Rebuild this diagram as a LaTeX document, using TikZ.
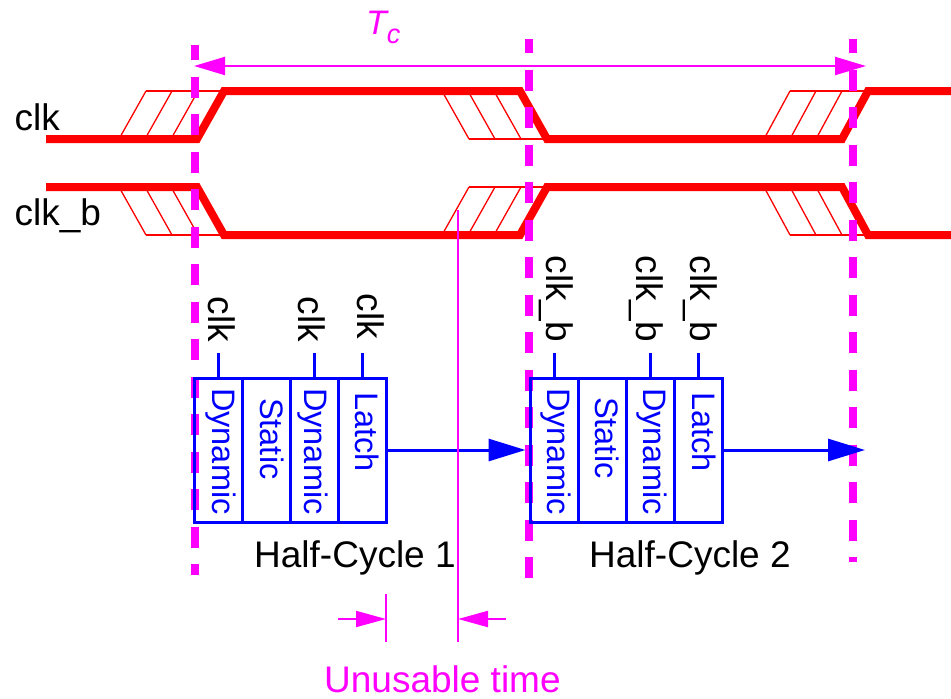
\documentclass[tikz,border=0pt]{standalone}
\usepackage{fontspec}
\setmainfont{Liberation Sans}
\usetikzlibrary{arrows.meta}
\definecolor{mag}{RGB}{255,0,255}
\definecolor{wred}{RGB}{255,0,0}
\definecolor{bblue}{RGB}{0,0,255}
\begin{document}
\begin{tikzpicture}[x=1pt,y=-1pt,
  wave/.style={wred, line width=8pt, line join=miter},
  hatch/.style={wred, line width=1.3pt},
  guide/.style={mag, line width=8pt, dash pattern=on 21pt off 16.5pt},
  mline/.style={mag, line width=2pt},
  cell/.style={draw=bblue, line width=3pt, minimum width=48pt, minimum height=144pt, inner sep=0pt},
  celltext/.style={bblue, rotate=-90, anchor=base west, inner sep=0pt, font=\fontsize{32.5}{32.5}\selectfont},
  pinlabel/.style={black, rotate=-90, anchor=base west, inner sep=0pt, font=\fontsize{37}{37}\selectfont},
  lbl/.style={anchor=base west, inner sep=0pt, font=\fontsize{37}{37}\selectfont},
  pin/.style={bblue, line width=3pt},
  flow/.style={bblue, line width=3pt, -{Triangle[length=37pt,width=22pt]}},
  bigtip/.style={mag, line width=2pt, {Triangle[length=31pt,width=18pt]}-{Triangle[length=31pt,width=18pt]}},
  smalltip/.style={mag, line width=2pt, -{Triangle[length=30pt,width=16pt]}}
]
\useasboundingbox (0,0) rectangle (951,699);

% hatches
\foreach \xa/\ya/\xb/\yb in {197/139/224/91, 520/91/547/139, 842/139/868/91,
                              197/187/224/235, 520/235/547/187, 842/187/868/235}{
  \foreach \s in {26,52,78}{
    \draw[hatch] (\xa-\s,\ya) -- (\xb-\s,\yb);
  }
  \draw[hatch] (\xb-78,\yb) -- (\xb,\yb);
}

% waveforms
\draw[wave] (46,139) -- (197,139) -- (224,91) -- (520,91) -- (547,139) -- (842,139) -- (868,91) -- (951,91);
\draw[wave] (46,187) -- (197,187) -- (224,235) -- (520,235) -- (547,187) -- (842,187) -- (868,235) -- (951,235);

% signal labels
\node[lbl] (lclk) at (14.5,130) {clk};
\node[lbl] (lclkb) at (14.5,225) {clk\_b};

% dashed guides
\coordinate (g1t) at (195,45);  \coordinate (g1b) at (195,575);
\coordinate (g2t) at (528.5,39); \coordinate (g2b) at (528.5,581);
\coordinate (g3t) at (853,39);  \coordinate (g3b) at (853,562);
\draw[guide, dash phase=6pt] (g1t) -- (g1b);
\draw[guide, dash phase=7pt] (g2t) -- (g2b);
\draw[guide, dash phase=7pt] (g3t) -- (g3b);

% Tc
\coordinate (tcl) at (194,66);
\coordinate (tcr) at (866,66);
\draw[bigtip] (tcl) -- (tcr);
\node[mag, anchor=base west, inner sep=0pt] (tc) at (366,34)
  {\fontsize{34}{34}\selectfont\itshape T\raisebox{-9pt}{\fontsize{27}{27}\selectfont c}};

% block 1
\node[cell] (c1) at (218,450) {};
\node[cell] (c2) at (266,450) {};
\node[cell] (c3) at (314,450) {};
\node[cell] (c4) at (362,450) {};
\node[celltext] (t1) at (212,388) {Dynamic};
\node[celltext] (t2) at (260,398) {Static};
\node[celltext] (t3) at (304,388) {Dynamic};
\node[celltext] (t4) at (355,392) {Latch};
\coordinate (p1) at (218,353);
\coordinate (p3) at (314,353);
\coordinate (p4) at (362,353);
\draw[pin] (p1) -- (c1.north);
\draw[pin] (p3) -- (c3.north);
\draw[pin] (p4) -- (c4.north);
\node[pinlabel] (k1) at (208,296.5) {clk};
\node[pinlabel] (k3) at (298,296.5) {clk};
\node[pinlabel] (k4) at (357,293.5) {clk};

% block 2
\node[cell] (c5) at (554,450) {};
\node[cell] (c6) at (602,450) {};
\node[cell] (c7) at (650,450) {};
\node[cell] (c8) at (698,450) {};
\node[celltext] (t5) at (547,388) {Dynamic};
\node[celltext] (t6) at (595,397) {Static};
\node[celltext] (t7) at (643,388) {Dynamic};
\node[celltext] (t8) at (692,392) {Latch};
\coordinate (p5) at (554,353);
\coordinate (p7) at (650,353);
\coordinate (p8) at (698,353);
\draw[pin] (p5) -- (c5.north);
\draw[pin] (p7) -- (c7.north);
\draw[pin] (p8) -- (c8.north);
\node[pinlabel] (k5) at (546,255.5) {clk\_b};
\node[pinlabel] (k7) at (636,255.5) {clk\_b};
\node[pinlabel] (k8) at (690,255.5) {clk\_b};

% data flow arrows
\coordinate (out2) at (865,450);
\draw[flow] (c4.east) -- ([xshift=-3pt]c5.west);
\draw[flow] (c8.east) -- (out2);

% half-cycle labels
\node[lbl] (h1) at (254,567) {Half-Cycle 1};
\node[lbl] (h2) at (589,567) {Half-Cycle 2};

% unusable time
\coordinate (u1t) at (458,210); \coordinate (u1b) at (458,642);
\coordinate (u2t) at (386,594); \coordinate (u2b) at (386,642);
\draw[mline] (u1t) -- (u1b);
\draw[mline] (u2t) -- (u2b);
\coordinate (a1s) at (338,619); \coordinate (a1e) at (386,619);
\coordinate (a2s) at (506,619); \coordinate (a2e) at (458,619);
\draw[smalltip] (a1s) -- (a1e);
\draw[smalltip] (a2s) -- (a2e);
\node[lbl, mag] (ut) at (324,692) {Unusable time};
\end{tikzpicture}
\end{document}
